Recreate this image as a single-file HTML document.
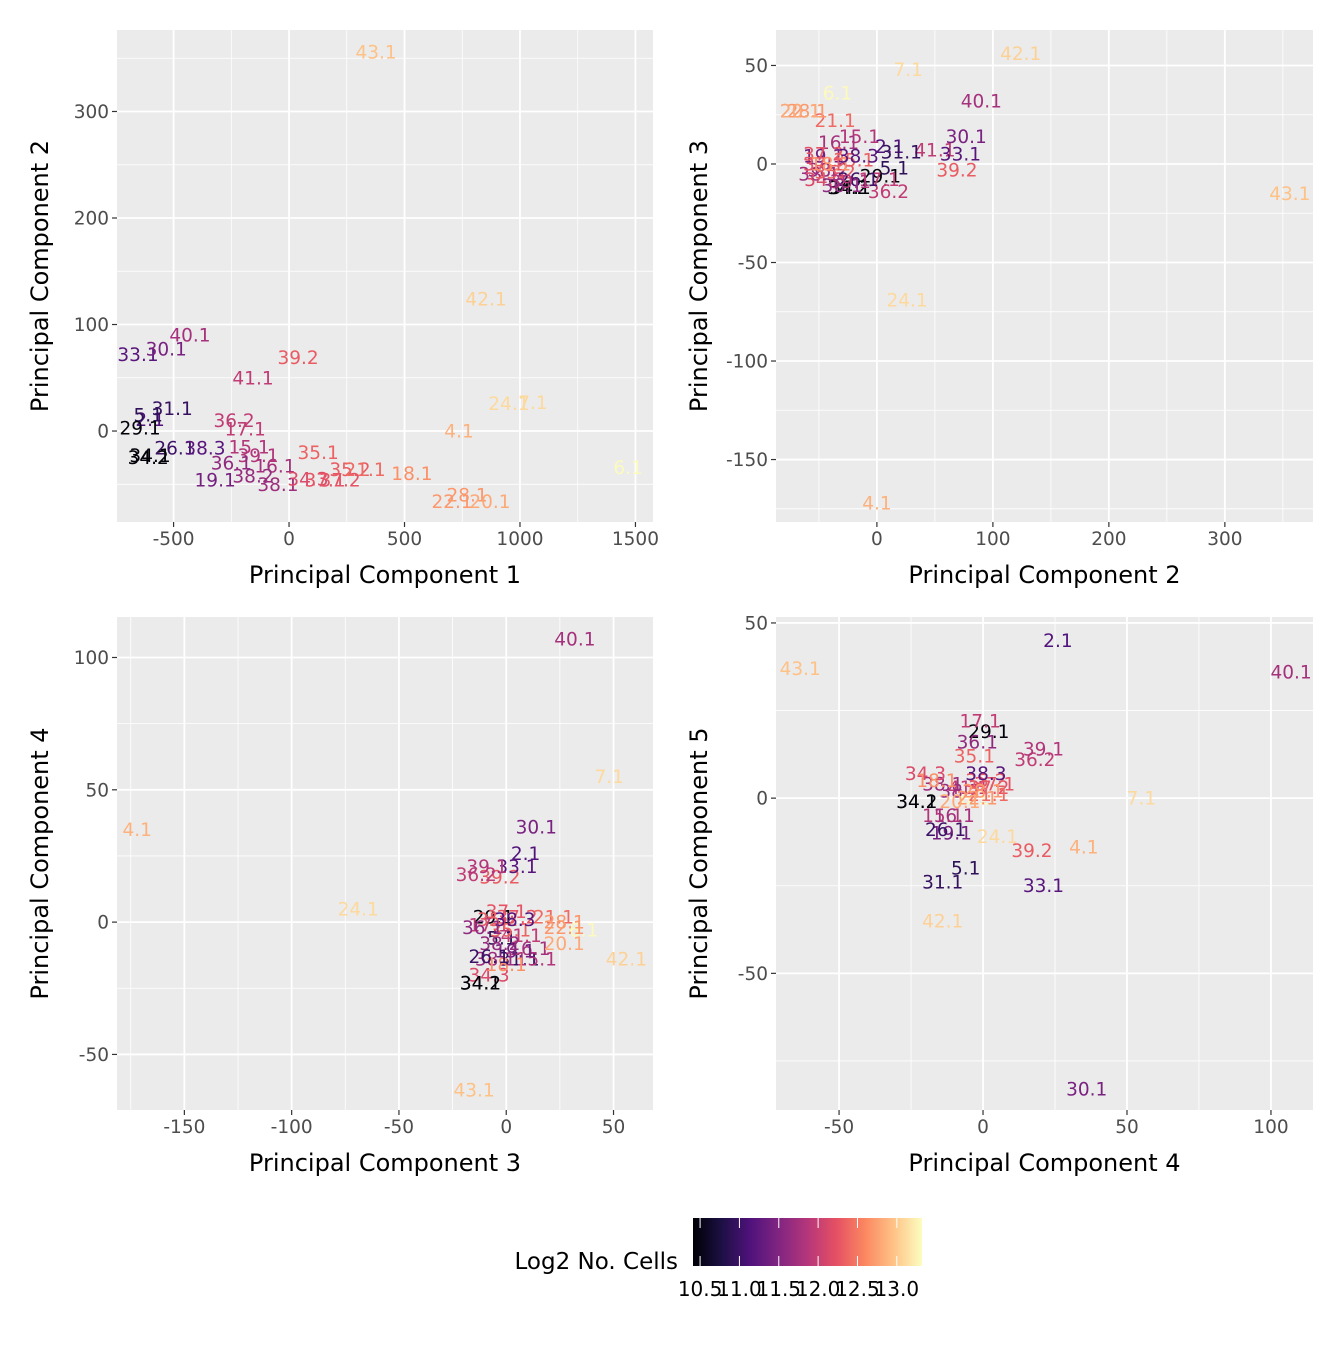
<!DOCTYPE html>
<html><head><meta charset="utf-8"><style>
html,body{margin:0;padding:0;background:#fff;}
svg text{font-family:"DejaVu Sans","Liberation Sans",sans-serif;}
</style></head><body>
<svg id="chart" width="1344" height="1344" viewBox="0 0 1344 1344" xmlns="http://www.w3.org/2000/svg">
<defs>
<linearGradient id="magma" x1="0" x2="1" y1="0" y2="0">
<stop offset="0" stop-color="#000004"/><stop offset="0.125" stop-color="#1c1044"/><stop offset="0.25" stop-color="#4f127b"/><stop offset="0.375" stop-color="#812581"/><stop offset="0.5" stop-color="#b5367a"/><stop offset="0.625" stop-color="#e55064"/><stop offset="0.75" stop-color="#fb8761"/><stop offset="0.875" stop-color="#fec287"/><stop offset="1" stop-color="#fcfdbf"/>
</linearGradient>
</defs>
</svg>
<script>
// ---- data ----
const samples = ["43.1","42.1","40.1","7.1","6.1","24.1","4.1","39.2","41.1","33.1","30.1","2.1","5.1","31.1","29.1","36.2","17.1","15.1","16.1","19.1","38.2","38.1","34.3","37.2","37.1","35.1","35.2","21.1","18.1","22.1","28.1","20.1","26.1","38.3","34.2","34.1","39.1","36.1"];
const pc1 = [377,853,-429,1056,1468,952,736,39,-156,-654,-532,-602,-610,-506,-645,-238,-190,-173,-61,-320,-156,-48,82,221,156,126,264,329,532,706,771,870,-494,-364,-610,-602,-134,-250];
const pc2 = [356,124,90,27,-34,26,0,69,50,72,77,11,15,21,3,10,2,-15,-33,-46,-42,-50,-45,-46,-46,-20,-36,-36,-40,-66,-60,-66,-16,-16,-25,-23,-23,-30];
const pc3 = [-15,56,32,48,36,-69,-172,-3,7,5,14,9,-2,6,-6,-14,-8,14,11,4,-3,-5,-8,5,0,2,-4,22,0,27,27,27,-8,4,-12,-12,-9,-11];
const pc4 = [-63.5,-14,107,55,-3,5,35,17,-5,21,36,26,-6,-14,2,18,-1,-14,-10,-11,-8,-14,-20,2,4,-3,1,2,-16,-2,0,-8,-13,1,-23,-23,21,-2];
const pc5 = [37,-35,36,0,0,-11,-14,-15,3,-25,-83,45,-20,-24,19,11,22,-5,-5,-10,2,4,7,3,4,12,5,1,5,0,2,-1,-9,7,-1,-1,14,16];
const log2cells = [12.95,13.05,11.75,13.1,13.3,13.1,12.85,12.3,11.95,11.2,11.45,11.15,10.9,10.95,10.45,11.95,11.95,11.85,11.75,11.4,11.65,11.7,12.15,12.25,12.25,12.35,12.3,12.4,12.65,12.7,12.7,12.8,11.0,11.2,10.42,10.45,11.85,11.6];
const legendTicks = [10.5,11.0,11.5,12.0,12.5,13.0];
const pcs = [pc1,pc2,pc3,pc4,pc5];

const NS="http://www.w3.org/2000/svg";
const svg=document.getElementById('chart');
function mk(tag,attrs,parent){const e=document.createElementNS(NS,tag);for(const k in attrs)e.setAttribute(k,attrs[k]);(parent||svg).appendChild(e);return e;}

const stops=[[0,"#000004"],[0.125,"#1c1044"],[0.25,"#4f127b"],[0.375,"#812581"],[0.5,"#b5367a"],[0.625,"#e55064"],[0.75,"#fb8761"],[0.875,"#fec287"],[1,"#fcfdbf"]];
const cMin=10.41,cMax=13.32;
function hex(h){return [1,3,5].map(i=>parseInt(h.substr(i,2),16));}
function magma(v){let t=(v-cMin)/(cMax-cMin);t=Math.max(0,Math.min(1,t));
 for(let i=0;i<stops.length-1;i++){if(t<=stops[i+1][0]){const a=hex(stops[i][1]),b=hex(stops[i+1][1]);const f=(t-stops[i][0])/(stops[i+1][0]-stops[i][0]);return 'rgb('+a.map((x,j)=>Math.round(x+(b[j]-x)*f)).join(',')+')';}}return stops[8][1];}

const panels=[
 {name:'pc1-vs-pc2',xi:0,yi:1,L:117,R:653,T:30,B:522,xr:[-745,1576],yr:[-85.4,376.5],xmaj:[-500,0,500,1000,1500],xmin:[-750,-250,250,750,1250],ymaj:[0,100,200,300],ymin:[-50,50,150,250,350],xt:'Principal Component 1',yt:'Principal Component 2'},
 {name:'pc2-vs-pc3',xi:1,yi:2,L:776,R:1313,T:30,B:522,xr:[-87,376],yr:[-181.7,68],xmaj:[0,100,200,300],xmin:[-50,50,150,250,350],ymaj:[-150,-100,-50,0,50],ymin:[-175,-125,-75,-25,25],xt:'Principal Component 2',yt:'Principal Component 3'},
 {name:'pc3-vs-pc4',xi:2,yi:3,L:117,R:653,T:617,B:1110,xr:[-181.4,68.4],yr:[-71,115.3],xmaj:[-150,-100,-50,0,50],xmin:[-175,-125,-75,-25,25],ymaj:[-50,0,50,100],ymin:[-75,-25,25,75],xt:'Principal Component 3',yt:'Principal Component 4'},
 {name:'pc4-vs-pc5',xi:3,yi:4,L:776,R:1313,T:617,B:1110,xr:[-71.9,114.6],yr:[-89,51.7],xmaj:[-50,0,50,100],xmin:[-75,-25,25,75],ymaj:[-50,0,50],ymin:[-75,-25,25],xt:'Principal Component 4',yt:'Principal Component 5'}
];

panels.forEach(p=>{
 const g=mk('g',{});
 
 
 const sx=v=>p.L+(v-p.xr[0])/(p.xr[1]-p.xr[0])*(p.R-p.L);
 const sy=v=>p.B-(v-p.yr[0])/(p.yr[1]-p.yr[0])*(p.B-p.T);
 mk('rect',{x:p.L,y:p.T,width:p.R-p.L,height:p.B-p.T,fill:'#ebebeb'},g);
 p.xmin.forEach(v=>{const x=sx(v);if(x>p.L&&x<p.R)mk('line',{x1:x,x2:x,y1:p.T,y2:p.B,stroke:'#fff','stroke-width':0.8},g);});
 p.ymin.forEach(v=>{const y=sy(v);if(y>p.T&&y<p.B)mk('line',{x1:p.L,x2:p.R,y1:y,y2:y,stroke:'#fff','stroke-width':0.8},g);});
 p.xmaj.forEach(v=>{const x=sx(v);mk('line',{x1:x,x2:x,y1:p.T,y2:p.B,stroke:'#fff','stroke-width':1.8},g);
  mk('line',{x1:x,x2:x,y1:p.B,y2:p.B+5,stroke:'#333','stroke-width':1.2},g);
  const t=mk('text',{x:x,y:p.B+23,'text-anchor':'middle','font-size':18.5,fill:'#4d4d4d'},g);t.textContent=v;
  
  });
 p.ymaj.forEach(v=>{const y=sy(v);mk('line',{x1:p.L,x2:p.R,y1:y,y2:y,stroke:'#fff','stroke-width':1.8},g);
  mk('line',{x1:p.L-5,x2:p.L,y1:y,y2:y,stroke:'#333','stroke-width':1.2},g);
  const t=mk('text',{x:p.L-8,y:y+6.5,'text-anchor':'end','font-size':18.5,fill:'#4d4d4d'},g);t.textContent=v;
  
  });
 const xt=mk('text',{x:(p.L+p.R)/2,y:p.B+61,'text-anchor':'middle','font-size':24,fill:'#000'},g);xt.textContent=p.xt;
 
 
 const cx=p.L-69,cy=(p.T+p.B)/2;
 const yt=mk('text',{x:cx,y:cy,'text-anchor':'middle','font-size':24,fill:'#000',transform:`rotate(-90 ${cx} ${cy})`},g);yt.textContent=p.yt;
 
 
 const X=pcs[p.xi],Y=pcs[p.yi];
 samples.forEach((s,i)=>{
  const t=mk('text',{x:sx(X[i]),y:sy(Y[i])+6.5,'text-anchor':'middle','font-size':18.5,fill:magma(log2cells[i])},g);
  t.textContent=s;
  
  
 });
});

// legend
const lg=mk('g',{});


const lt=mk('text',{x:678,y:1269,'text-anchor':'end','font-size':23,fill:'#000'},lg);lt.textContent='Log2 No. Cells';


const bar=mk('rect',{x:693,y:1218,width:229,height:48,fill:'url(#magma)'},lg);


const lx=v=>693+(v-cMin)/(cMax-cMin)*229;
legendTicks.forEach(v=>{const x=lx(v);
 mk('line',{x1:x,x2:x,y1:1218,y2:1228,stroke:'#fff','stroke-width':1},lg);
 mk('line',{x1:x,x2:x,y1:1256,y2:1266,stroke:'#fff','stroke-width':1},lg);
 const t=mk('text',{x:x,y:1296,'text-anchor':'middle','font-size':20,fill:'#000'},lg);t.textContent=v.toFixed(1);
 
 
});
</script>
</body></html>
